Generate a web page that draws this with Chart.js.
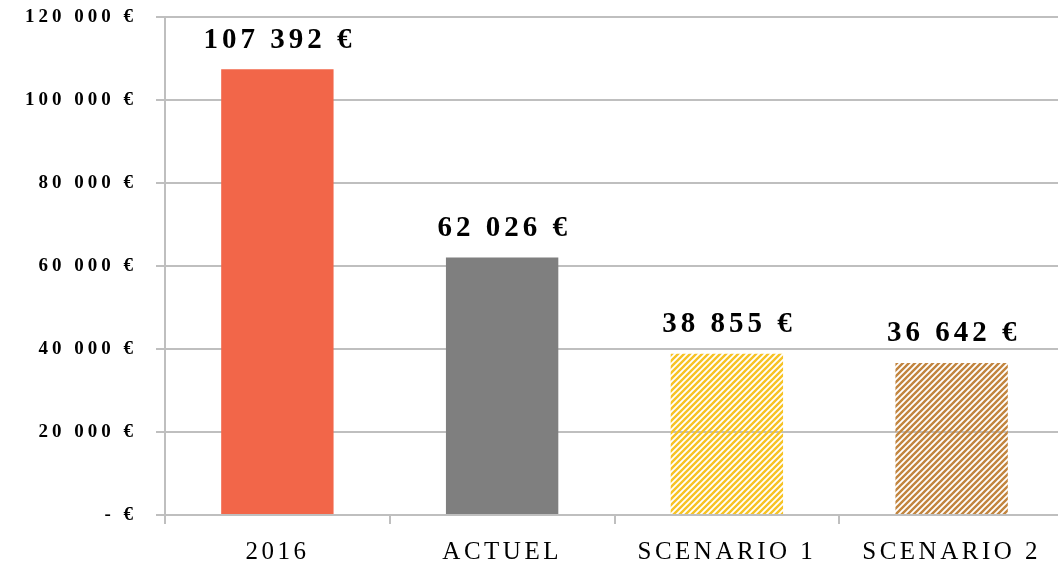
<!DOCTYPE html>
<html>
<head>
<meta charset="utf-8">
<script src="https://cdn.jsdelivr.net/npm/chart.js@4"></script>
<style>
  html, body { margin: 0; padding: 0; background: #fff; overflow: hidden; }
  #wrap { width: 1064px; height: 565px; }
</style>
</head>
<body>
<div id="wrap"><canvas id="costChart"></canvas></div>
<script>
var categories = ['2016', 'ACTUEL', 'SCENARIO 1', 'SCENARIO 2'];
var amounts = [107392, 62026, 38855, 36642];
var yTicks = [0, 20000, 40000, 60000, 80000, 100000, 120000];

var fontFamily = 'Liberation Serif';

function euro(v) {
    if (v === 0) return '- €';
    return String(Math.round(v)).replace(/\B(?=(\d{3})+(?!\d))/g, ' ') + ' €';
}

function hatch(color) {
    var c = document.createElement('canvas');
    c.width = 6; c.height = 6;
    var g = c.getContext('2d');
    g.strokeStyle = color;
    g.lineWidth = 2.4;
    g.beginPath();
    g.moveTo(-1, 7); g.lineTo(7, -1);
    g.moveTo(-4, 4); g.lineTo(4, -4);
    g.moveTo(2, 10); g.lineTo(10, 2);
    g.stroke();
    return g.createPattern(c, 'repeat');
}

// the original typeface is broad, so open the letters of each axis a little
function spaceLabels(scale, amount) {
    if (scale._spaced) return;
    var orig = scale.drawLabels;
    scale.drawLabels = function(area) {
        var ctx = this.ctx;
        ctx.save();
        ctx.letterSpacing = amount;
        orig.call(this, area);
        ctx.restore();
    };
    scale._spaced = true;
}

var spacing = {
    id: 'spacing',
    beforeDraw: function(chart) {
        spaceLabels(chart.scales.x, '3.5px');
        spaceLabels(chart.scales.y, '4px');
    }
};

var valueLabels = {
    id: 'valueLabels',
    afterDatasetsDraw: function(chart) {
        var ctx = chart.ctx;
        var meta = chart.getDatasetMeta(0);
        ctx.save();
        ctx.font = 'bold 29px ' + fontFamily;
        ctx.letterSpacing = '4px';
        ctx.fillStyle = '#000';
        ctx.textAlign = 'center';
        ctx.textBaseline = 'middle';
        for (var i = 0; i < meta.data.length; i++) {
            var bar = meta.data[i];
            ctx.fillText(euro(amounts[i]), bar.x + 2, bar.y - 29);
        }
        ctx.restore();
    }
};

new Chart(document.getElementById('costChart'), {
    type: 'bar',
    data: {
        labels: categories,
        datasets: [{
            data: amounts,
            backgroundColor: ['#f26649', '#7f7f7f', hatch('#f7c325'), hatch('#c2853f')],
            categoryPercentage: 1,
            barPercentage: 0.5
        }]
    },
    options: {
        responsive: true,
        maintainAspectRatio: false,
        animation: false,
        layout: { padding: { top: 17, right: 0, left: 0, bottom: 0 } },
        plugins: { legend: { display: false }, tooltip: { enabled: false } },
        scales: {
            x: {
                grid: { offset: true, drawOnChartArea: false, color: '#bfbfbf', lineWidth: 2, tickLength: 9 },
                border: { color: '#bfbfbf', width: 2 },
                ticks: { color: '#000', font: { family: fontFamily, size: 25 }, padding: 13 },
                afterFit: function(scale) {
                    scale.height = 50;
                    scale.paddingLeft = 0;
                    scale.paddingRight = 0;
                }
            },
            y: {
                min: 0,
                max: 120000,
                afterBuildTicks: function(scale) {
                    scale.ticks = yTicks.map(function(v) { return { value: v }; });
                },
                grid: { color: '#bfbfbf', lineWidth: 2, tickLength: 9 },
                border: { color: '#bfbfbf', width: 2 },
                ticks: {
                    color: '#000',
                    font: { family: fontFamily, size: 19, weight: 'bold' },
                    padding: 19,
                    callback: function(v) { return euro(v); }
                },
                afterFit: function(scale) {
                    scale.width = 165;
                    scale.paddingTop = 0;
                    scale.paddingBottom = 0;
                }
            }
        }
    },
    plugins: [spacing, valueLabels]
});
</script>
</body>
</html>
